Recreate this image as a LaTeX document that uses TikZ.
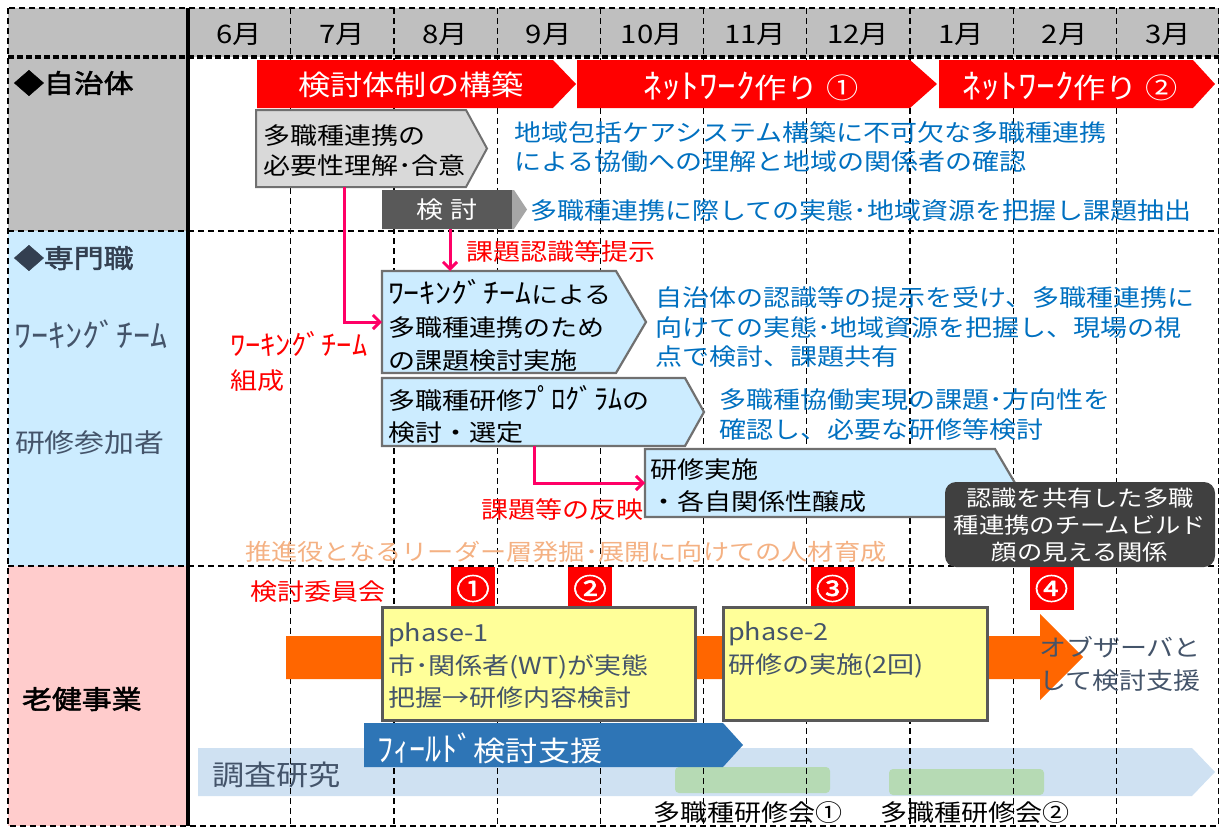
\documentclass[tikz,border=0pt]{standalone}
\usepackage{fontspec}
\usepackage{graphicx}
\setmainfont{Noto Sans CJK JP}[FakeStretch=1.15]
\newfontfamily\jpbold{Noto Sans CJK JP}[FakeStretch=1.15,FakeBold=2]
\newcommand\hw[2][1.12]{\scalebox{#1}[1.2]{#2}}
\usetikzlibrary{arrows.meta,calc}
\definecolor{hdrgray}{HTML}{BFBFBF}
\definecolor{cellblue}{HTML}{CCECFF}
\definecolor{cellpink}{HTML}{FFCCCC}
\definecolor{jred}{HTML}{FF0000}
\definecolor{jblue}{HTML}{0070C0}
\definecolor{jpink}{HTML}{FF0066}
\definecolor{slate}{HTML}{44546A}
\definecolor{boxgray}{HTML}{D9D9D9}
\definecolor{edgegray}{HTML}{707070}
\definecolor{darkbox}{HTML}{595959}
\definecolor{headgray}{HTML}{A6A6A6}
\definecolor{darkround}{HTML}{404040}
\definecolor{jorange}{HTML}{FF6600}
\definecolor{softorange}{HTML}{F4B183}
\definecolor{jyellow}{HTML}{FFFF99}
\definecolor{resbar}{HTML}{CFE1F2}
\definecolor{fieldblue}{HTML}{2E75B6}
\definecolor{jgreen}{HTML}{B6DAB4}
\begin{document}
\begin{tikzpicture}[x=1bp,y=-1bp,
  every node/.style={inner sep=0pt,outer sep=0pt},
  gridl/.style={line width=1.2bp,dash pattern=on 6bp off 4bp},
  f/.style={font=\fontsize{#1bp}{#1bp}\selectfont},
  tb/.style={font=\fontsize{23.5bp}{#1bp}\selectfont,align=left,anchor=west},
  redarrow/.style={fill=jred},
  bluebox/.style={fill=cellblue,draw=edgegray,line width=2.2bp,line join=miter},
  yellowbox/.style={fill=jyellow,draw=darkbox,line width=3bp},
  pinkline/.style={draw=jpink,line width=3bp,-{Straight Barb[length=7bp,width=14bp]}},
  numsq/.style={fill=jred,text=white,minimum width=44bp,minimum height=43bp,font=\jpbold\fontsize{29bp}{29bp}\selectfont}
]
\useasboundingbox (0,0) rectangle (1221,828);
% cell backgrounds
\fill[hdrgray] (8,8) rectangle (1218.5,57);
\fill[hdrgray] (8,57) rectangle (187.5,231);
\fill[cellblue] (8,231) rectangle (187.5,566);
\fill[cellpink] (8,566) rectangle (187.5,826);
% research bar and workshop marks (under grid)
\fill[resbar] (198,748) -- (1192,748) -- (1215,772) -- (1192,796) -- (198,796) -- cycle;
\fill[jgreen,rounded corners=4bp] (675,767) rectangle (830,793);
\fill[jgreen,rounded corners=4bp] (889,769) rectangle (1044,795);
% grid
\foreach \k in {1,...,9} \draw[gridl] ({187.5+103.2*\k},8) -- ({187.5+103.2*\k},826);
\draw[gridl] (8,8) rectangle (1218.5,826);
\draw[gridl] (8,231) -- (1218.5,231);
\draw[gridl] (8,566) -- (1218.5,566);
\draw[line width=3.5bp,dash pattern=on 6bp off 3bp] (8,57) -- (1218.5,57);
\draw[line width=4bp] (187.5,8) -- (187.5,826);
% months
\foreach \m [count=\i] in {6,7,8,9,10,11,12,1,2,3}
  \node[f=25.5] (m\i) at ({187.5+103.2*(\i-0.5)},34) {\m 月};
% row heads
\node[anchor=west,font=\jpbold\fontsize{26bp}{26bp}\selectfont] (rh1) at (14,83) {◆自治体};
\node[anchor=west,font=\jpbold\fontsize{26bp}{26bp}\selectfont,text=slate!75!black] (rh2) at (14,258) {◆専門職};
\node[anchor=west,f=27,text=slate] (rh2a) at (14,334) {\hw[1.1]{ﾜｰｷﾝｸﾞﾁｰﾑ}};
\node[anchor=west,f=26,text=slate] (rh2b) at (15,443) {研修参加者};
\node[anchor=west,font=\jpbold\fontsize{26bp}{26bp}\selectfont] (rh3) at (22,699) {老健事業};
% red chevrons
\fill[redarrow] (257,60) -- (553,60) -- (576,84) -- (553,108) -- (257,108) -- cycle;
\node[f=28,text=white] (a1) at (411,85) {検討体制の構築};
\fill[redarrow] (577,60) -- (910,60) -- (937,84) -- (910,108) -- (577,108) -- cycle;
\node[f=28,text=white] (a2) at (751,86) {\hw[1.15]{ﾈｯﾄﾜｰｸ}作り ①};
\fill[redarrow] (939,60) -- (1193,60) -- (1215,84) -- (1193,108) -- (939,108) -- cycle;
\node[f=28,text=white] (a3) at (1070,86) {\hw[1.15]{ﾈｯﾄﾜｰｸ}作り ②};
% consensus box
\path[fill=boxgray,draw=edgegray,line width=2bp] (256,110) -- (466,110) -- (487,148.5) -- (466,187) -- (256,187) -- cycle;
\node[minimum width=210bp,minimum height=77bp,anchor=north west] (need) at (256,110) {};
\node[tb=30] (needt) at (263,151) {多職種連携の\\必要性理解･合意};
\node[tb=29,text=jblue] (b1) at (514,147.5) {地域包括ケアシステム構築に不可欠な多職種連携\\による協働への理解と地域の関係者の確認};
% kento arrow
\fill[headgray] (382,190) -- (514,190) -- (527,209.5) -- (514,229) -- (382,229) -- cycle;
\node[fill=darkbox,minimum width=130bp,minimum height=39bp,anchor=north west] (kento) at (382,190) {};
\node[f=23.5,text=white] (kentot) at (447,210) {検 討};
\node[tb=29,text=jblue] (b2) at (530,211) {多職種連携に際しての実態･地域資源を把握し課題抽出};
% working team box
\path[bluebox] (382,271) -- (616,271) -- (646,322) -- (616,373) -- (382,373) -- cycle;
\node[minimum width=234bp,minimum height=102bp,anchor=north west] (wt) at (382,271) {};
\node[tb=33] (wtt) at (388,325) {\hw[1.18]{ﾜｰｷﾝｸﾞﾁｰﾑ}による\\多職種連携のため\\の課題検討実施};
\node[tb=29.5,text=jblue] (b3) at (655,327.5) {自治体の認識等の提示を受け、多職種連携に\\向けての実態･地域資源を把握し、現場の視\\点で検討、課題共有};
% program box
\path[bluebox] (382,378) -- (685,378) -- (704,412) -- (685,446) -- (382,446) -- cycle;
\node[minimum width=303bp,minimum height=68bp,anchor=north west] (prog) at (382,378) {};
\node[tb=32] (progt) at (388,414) {多職種研修\hw[1.05]{ﾌﾟﾛｸﾞﾗﾑ}の\\検討・選定};
\node[tb=30,text=jblue] (b4) at (719,415) {多職種協働実現の課題･方向性を\\確認し、必要な研修等検討};
% training box
\path[bluebox] (645,449) -- (995,449) -- (1015,483) -- (995,517) -- (645,517) -- cycle;
\node[minimum width=350bp,minimum height=68bp,anchor=north west] (train) at (645,449) {};
\node[tb=32] (traint) at (650,486) {研修実施\\・各自関係性醸成};
% team build rounded box
\node[fill=darkround,rounded corners=11bp,minimum width=270bp,minimum height=85bp,anchor=north west] (build) at (945,482) {};
\node[align=center,text=white,font=\fontsize{22bp}{27bp}\selectfont] (buildt) at (1080,525) {認識を共有した多職\\種連携のチームビルド\\顔の見える関係};
% connectors and labels
\draw[pinkline] ($(need.south west)+(88,0)$) |- (wt.west);
\draw[pinkline] ($(kento.south west)+(68,0)$) -- ($(wt.north west)+(68,0)$);
\draw[pinkline] ($(prog.south west)+(152,0)$) |- (train.west);
\node[anchor=west,f=23.5,text=jred] (l1) at (466,252) {課題認識等提示};
\node[tb=34,text=jred] (l2) at (230,361) {\hw[1.13]{ﾜｰｷﾝｸﾞﾁｰﾑ}\\組成};
\node[anchor=west,f=23.5,text=jred] (l3) at (481,510) {課題等の反映};
\node[anchor=west,f=22.8,text=softorange] (l4) at (245,552) {推進役となるリーダー層発掘･展開に向けての人材育成};
% roken row
\node[anchor=west,f=23.5,text=jred] (iin) at (250,592) {検討委員会};
\node[numsq] (c1) at (473,588.5) {①};
\node[numsq] (c2) at (590,588.5) {②};
\node[numsq] (c3) at (832.5,588.5) {③};
\node[numsq] (c4) at (1051.5,588.5) {④};
\fill[jorange] (286,636) -- (1040,636) -- (1040,614) -- (1083,657) -- (1040,700) -- (1040,679) -- (286,679) -- cycle;
\node[yellowbox,minimum width=313bp,minimum height=113bp,anchor=north west] (ph1) at (382,607) {};
\node[tb=32.5,text=slate] (ph1t) at (388,666) {phase-1\\市･関係者(WT)が実態\\把握→研修内容検討};
\node[yellowbox,minimum width=264bp,minimum height=113bp,anchor=north west] (ph2) at (723,607) {};
\node[tb=33,text=slate] (ph2t) at (728,650) {phase-2\\研修の実施(2回)};
\node[tb=33,text=slate] (obs) at (1039,663.5) {オブザーバと\\して検討支援};
% field support arrow
\fill[fieldblue] (364,723) -- (723,723) -- (743,745) -- (723,767) -- (364,767) -- cycle;
\node[anchor=west,f=28,text=white] (field) at (377,748) {\hw[1]{ﾌｨｰﾙﾄﾞ}検討支援};
\node[anchor=west,f=28,text=slate] (res) at (212,775) {調査研究};
\node[f=23.5] (ws1) at (748,813) {多職種研修会①};
\node[f=23.5] (ws2) at (975,813) {多職種研修会②};
\end{tikzpicture}
\end{document}
